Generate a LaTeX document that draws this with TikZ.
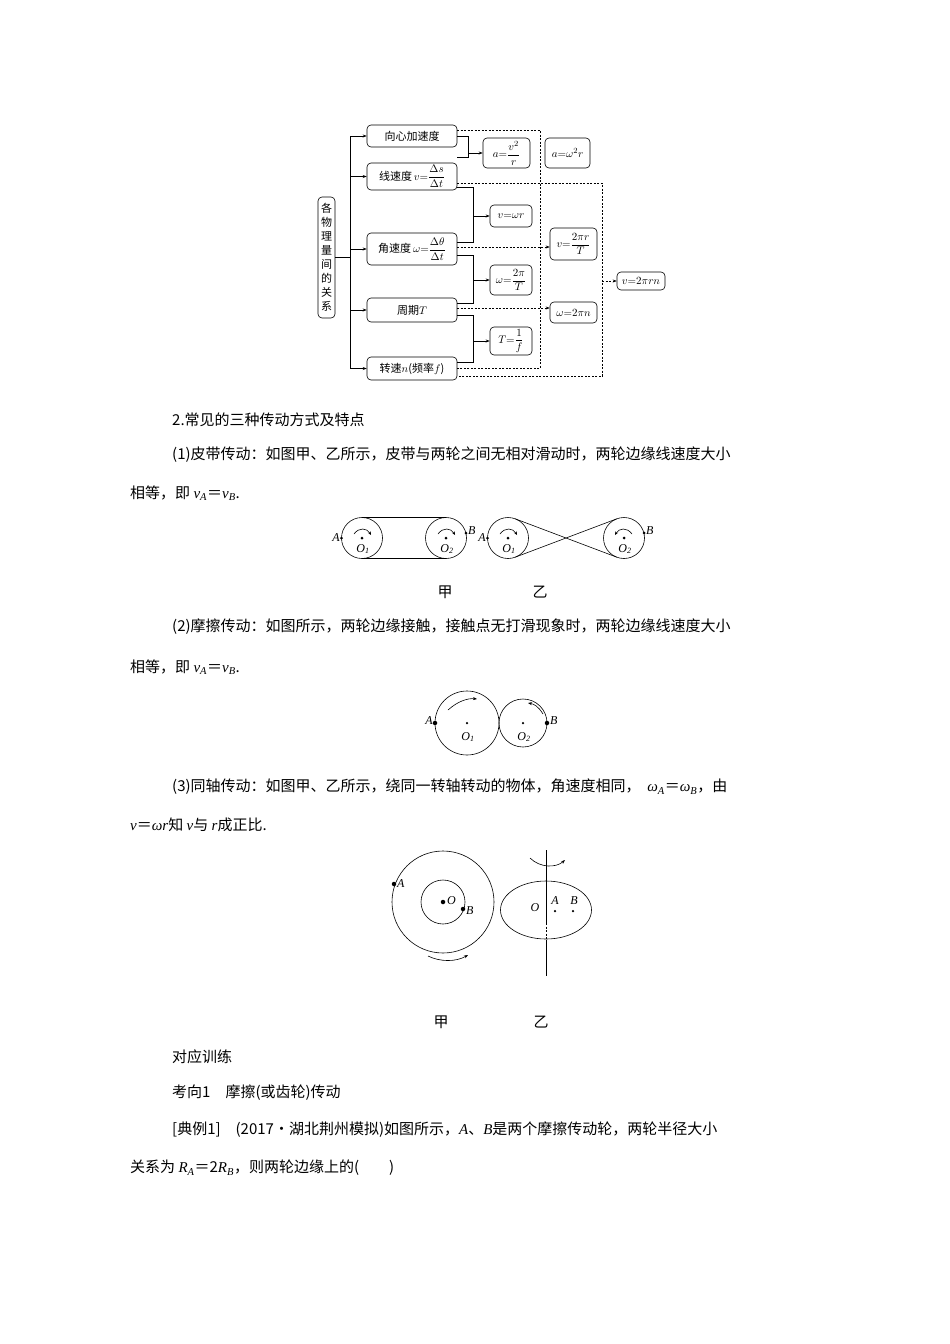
\documentclass[tikz,border=0pt]{standalone}
\usepackage{amsmath}
\usepackage{fontspec}
\setmainfont{Liberation Serif}
\newfontfamily\cjk{Noto Sans CJK SC}
\newfontfamily\lser{Liberation Serif}
\newcommand\iv[1]{{\lser\itshape #1}}
\newcommand\isub[2]{{\lser\itshape #1\textsubscript{#2}}}
\usetikzlibrary{arrows.meta,calc,shapes.geometric}
\begin{document}
\begin{tikzpicture}[x=1pt,y=-1pt,
 bx/.style={draw,rounded corners=4pt,inner sep=1pt,font=\cjk\fontsize{11}{12}\selectfont,line width=0.6pt},
 ln/.style={line width=0.6pt},
 ar/.style={ln,-{Stealth[length=4pt,width=3pt]}},
 dl/.style={line width=0.5pt,dash pattern=on 2pt off 1.5pt},
 da/.style={dl,-{Stealth[length=4pt,width=3pt]}},
 tx/.style={anchor=west,inner sep=0,font=\cjk\fontsize{15}{16}\selectfont},
 lb/.style={inner sep=0,font=\fontsize{12}{12}\selectfont},
 dot/.style={fill,circle,inner sep=0,minimum size=3pt}]
\useasboundingbox (0,0) rectangle (950,1344);
% ---- top diagram
\node[bx,minimum width=17pt,minimum height=121pt,text width=11pt,align=center,font=\cjk\fontsize{11}{14}\selectfont] (L) at (326.5,257.5) {各\\物\\理\\量\\间\\的\\关\\系};
\node[bx,minimum width=90pt,minimum height=22pt] (b1) at (412,136) {向心加速度};
\node[bx,minimum width=90pt,minimum height=27pt] (b2) at (412,176.5) {线速度\,$v{=}\dfrac{\Delta s}{\Delta t}$};
\node[bx,minimum width=90pt,minimum height=32pt] (b3) at (412,249) {角速度\,$\omega{=}\dfrac{\Delta\theta}{\Delta t}$};
\node[bx,minimum width=90pt,minimum height=24pt] (b4) at (412,310) {周期$T$};
\node[bx,minimum width=90pt,minimum height=23pt] (b5) at (412,368.5) {转速$n$(频率$f$)};
\node[bx,minimum width=47pt,minimum height=30pt] (r1) at (506.5,153) {$a{=}\dfrac{v^2}{r}$};
\node[bx,minimum width=45pt,minimum height=30pt] (r2) at (567.5,153) {$a{=}\omega^2 r$};
\node[bx,minimum width=42pt,minimum height=22pt] (r3) at (511,216) {$v{=}\omega r$};
\node[bx,minimum width=42pt,minimum height=30pt] (r4) at (511,280) {$\omega{=}\dfrac{2\pi}{T}$};
\node[bx,minimum width=42pt,minimum height=28pt] (r5) at (511,341) {$T{=}\dfrac{1}{f}$};
\node[bx,minimum width=47pt,minimum height=32pt] (r6) at (573.5,244) {$v{=}\dfrac{2\pi r}{T}$};
\node[bx,minimum width=47pt,minimum height=21pt] (r7) at (573.5,312.5) {$\omega{=}2\pi n$};
\node[bx,minimum width=48pt,minimum height=18pt] (r8) at (641,281) {$v{=}2\pi rn$};
\coordinate (t) at (350,0);
\draw[ln] (L.east) -- (L.east -| t);
\draw[ln] (b1.west -| t) -- (b5.west -| t);
\foreach \b in {b1,b2,b3,b4,b5} \draw[ar] (\b.west -| t) -- (\b.west);
\draw[ln] (b1.east) -- (468,136) -- (468,157) -- (b2.east |- 0,157);
\draw[ar] (468,153) -- (r1.west);
\draw[ln] (457,187) -- (473,187) -- (473,242) -- (457,242);
\draw[ar] (473,216) -- (r3.west);
\draw[ln] (457,255) -- (473,255) -- (473,303) -- (457,303);
\draw[ar] (473,280) -- (r4.west);
\draw[ln] (457,315) -- (473,315) -- (473,362) -- (457,362);
\draw[ar] (473,341) -- (r5.west);
\draw[dl] (457,130) -- (540,130) -- (540,368) -- (457,368);
\draw[dl] (457,183) -- (602,183) -- (602,376) -- (457,376);
\draw[da] (457,247) -- (r6.west |- 0,247);
\draw[da] (457,308) -- (r7.west |- 0,308);
\draw[da] (602,281) -- (r8.west);
% ---- text
\node[tx] (p1) at (172,420) {2.常见的三种传动方式及特点};
\node[tx] (p2) at (172,455) {(1)皮带传动：如图甲、乙所示，皮带与两轮之间无相对滑动时，两轮边缘线速度大小};
\node[tx] (p3) at (130,493) {相等，即 \isub{v}{A}＝\isub{v}{B}.};
% belt figure
\foreach \n/\x in {c1/362,c2/446,c3/508,c4/624} {\draw[ln] (\x,538) circle (20.5); \node[dot] (\n) at (\x,538) {};}
\draw[ln] (362,517.5) -- (446,517.5); \draw[ln] (362,558.5) -- (446,558.5);
\draw[ln] ($(c3)+(-69.3:20.5)$) -- ($(c4)+(110.7:20.5)$);
\draw[ln] ($(c3)+(69.3:20.5)$) -- ($(c4)+(-110.7:20.5)$);
\foreach \c in {c1,c2,c3} \draw[ln,-{Stealth[length=3.5pt,width=3pt]}] ($(\c)+(-8,-4)$) .. controls ($(\c)+(-3,-11)$) and ($(\c)+(5,-10)$) .. ($(\c)+(9,-3)$);
\draw[ln,-{Stealth[length=3.5pt,width=3pt]}] ($(c4)+(8,-4)$) .. controls ($(c4)+(3,-11)$) and ($(c4)+(-5,-10)$) .. ($(c4)+(-9,-3)$);
\node[dot] (A1) at (341.5,538) {}; \node[lb,anchor=east] at (A1.west) {\iv{A}};
\node[dot] (B1) at (466,533) {}; \node[lb,anchor=west] at (468,531) {\iv{B}};
\node[dot] (A2) at (487.5,538) {}; \node[lb,anchor=east] at (A2.west) {\iv{A}};
\node[dot] (B2) at (644,533) {}; \node[lb,anchor=west] at (646,531) {\iv{B}};
\foreach \c/\k in {c1/1,c2/2,c3/1,c4/2} \node[lb] at ($(\c)+(1,11)$) {\isub{O}{\k}};
\node[tx,anchor=center] at (445,592) {甲};
\node[tx,anchor=center] at (540,592) {乙};
\node[tx] at (172,627) {(2)摩擦传动：如图所示，两轮边缘接触，接触点无打滑现象时，两轮边缘线速度大小};
\node[tx] at (130,667) {相等，即 \isub{v}{A}＝\isub{v}{B}.};
% friction
\node[dot,minimum size=2.5pt] (o1) at (467,723) {}; \draw[ln] (o1) circle (32);
\node[dot,minimum size=2.5pt] (o2) at (523,723) {}; \draw[ln] (o2) circle (24);
\node[lb] at (468,737) {\isub{O}{1}}; \node[lb] at (524,737) {\isub{O}{2}};
\node[dot,minimum size=4.5pt] (fA) at (435,723) {}; \node[lb,anchor=east] at (433,721) {\iv{A}};
\node[dot,minimum size=4.5pt] (fB) at (547,723) {}; \node[lb,anchor=west] at (550,721) {\iv{B}};
\draw[ln,-{Stealth[length=4pt,width=3pt]}] (448,710) .. controls (458,701) and (468,698) .. (477,699);
\draw[ln,-{Stealth[length=4pt,width=3pt]}] (543,714) .. controls (538,706) and (534,704) .. (528,703);
\node[tx] at (172,787) {(3)同轴传动：如图甲、乙所示，绕同一转轴转动的物体，角速度相同，\ \ \isub{ω}{A}＝\isub{ω}{B}，由};
\node[tx] at (130,825) {\iv{v}＝\iv{ωr}知 \iv{v}与 \iv{r}成正比.};
% coaxial
\node[dot,minimum size=4.5pt] (O) at (443,902) {};
\draw[ln] (O) circle (51); \draw[ln] (O) circle (22);
\node[lb,anchor=west] at (447,901) {\iv{O}};
\node[dot,minimum size=4.5pt] (cA) at (394,884) {}; \node[lb,anchor=west] at (397,884) {\iv{A}};
\node[dot,minimum size=4.5pt] (cB) at (463,909) {}; \node[lb,anchor=west] at (466,911) {\iv{B}};
\draw[ln,-{Stealth[length=4pt,width=3pt]}] (428,956) .. controls (440,962) and (456,962) .. (468,955);
\node[draw,ln,ellipse,minimum width=91pt,minimum height=58pt,inner sep=0] (E) at (546,910) {};
\coordinate (axT) at (546,850); \coordinate (axB) at (546,976);
\draw[ln] (axT) -- (546,923); \draw[dl] (546,923) -- (546,940); \draw[ln] (546,940) -- (axB);
\draw[ln,-{Stealth[length=4pt,width=3pt]}] (530,858) .. controls (540,868) and (556,868) .. (565,860);
\node[lb] at (535,908) {\iv{O}};
\node[dot,minimum size=2.5pt] (eA) at (555,911) {}; \node[lb] at (555,901) {\iv{A}};
\node[dot,minimum size=2.5pt] (eB) at (573,911) {}; \node[lb] at (574,901) {\iv{B}};
\node[tx,anchor=center] at (441,1022) {甲};
\node[tx,anchor=center] at (541,1022) {乙};
\node[tx] at (172,1057) {对应训练};
\node[tx] at (172,1093) {考向1\quad 摩擦(或齿轮)传动};
\node[tx] at (172,1130) {[典例1]\quad (2017·湖北荆州模拟)如图所示，\iv{A}、\iv{B}是两个摩擦传动轮，两轮半径大小};
\node[tx] at (130,1168) {关系为 \isub{R}{A}＝2\isub{R}{B}，则两轮边缘上的(\qquad)};
\end{tikzpicture}
\end{document}
